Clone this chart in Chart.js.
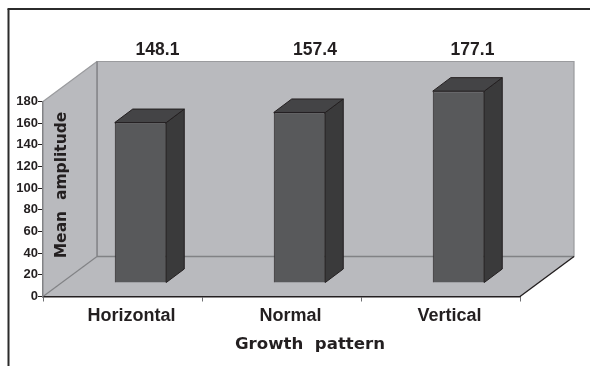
<!DOCTYPE html>
<html>
<head>
<meta charset="utf-8">
<style>
  html, body { margin: 0; padding: 0; background: #fff; }
  canvas { display: block; }
</style>
<script src="https://cdn.jsdelivr.net/npm/chart.js@4"></script>
</head>
<body>
<canvas id="chart" width="590" height="366"></canvas>
<script>
// Chart data
const categories = ["Horizontal", "Normal", "Vertical"];
const amplitudes = [148.1, 157.4, 177.1];
const xAxisTitle = "Growth  pattern";
const yAxisTitle = "Mean  amplitude";

const WALL = "#b9babe";
const WALL_EDGE = "#818285";
const WALL_EDGE_LIGHT = "#9a9b9e";
const DARK = "#231f20";
const SANS = "'Liberation Sans', Arial, sans-serif";
const WIDE = "'DejaVu Sans', Verdana, sans-serif";

// Room depth and bar offset of the fake 3D look
const ROOM_DX = 54, ROOM_DY = -40;
const BAR_DX = 18, BAR_DY = -13.5;
const SIDE_DX = 18, SIDE_DY = -13.5;

function poly(ctx, pts, fill, stroke, width) {
    ctx.beginPath();
    pts.forEach((p, i) => (i ? ctx.lineTo(p[0], p[1]) : ctx.moveTo(p[0], p[1])));
    ctx.closePath();
    if (fill) {
        ctx.fillStyle = fill;
        ctx.fill();
    }
    if (stroke) {
        ctx.strokeStyle = stroke;
        ctx.lineWidth = width || 1;
        ctx.stroke();
    }
}

function line(ctx, x0, y0, x1, y1, color, width) {
    ctx.strokeStyle = color;
    ctx.lineWidth = width;
    ctx.beginPath();
    ctx.moveTo(x0, y0);
    ctx.lineTo(x1, y1);
    ctx.stroke();
}

const roomPlugin = {
    id: "room",
    // Outer frame and the grey walls go behind the axes
    beforeDraw(chart) {
        const { ctx, chartArea: a } = chart;
        ctx.save();
        line(ctx, 8.5, chart.height, 8.5, 9, "#2b2b2b", 2);
        line(ctx, 7.5, 9, chart.width, 9, "#2b2b2b", 2);

        const l = a.left, r = a.right, t = a.top, b = a.bottom;
        const dx = ROOM_DX, dy = ROOM_DY;
        poly(ctx, [[l + dx, t + dy], [r + dx, t + dy], [r + dx, b + dy], [l + dx, b + dy]], WALL, WALL_EDGE_LIGHT, 1.2);
        poly(ctx, [[l, t], [l + dx, t + dy], [l + dx, b + dy], [l, b]], WALL);
        poly(ctx, [[l, b], [l + dx, b + dy], [r + dx, b + dy], [r, b]], WALL);
        line(ctx, l, t, l + dx, t + dy, WALL_EDGE_LIGHT, 1.2);
        line(ctx, l + dx, t + dy, l + dx, b + dy, WALL_EDGE, 1.4);
        line(ctx, l + dx, b + dy, r + dx, b + dy, WALL_EDGE, 1.4);
        line(ctx, l, b, l + dx, b + dy, WALL_EDGE, 1.2);
        line(ctx, r, b, r + dx, b + dy, DARK, 1.4);
        ctx.restore();
    },
    // Bars stand in the middle of the floor, so everything shifts back a bit
    beforeDatasetsDraw(chart) {
        const ctx = chart.ctx;
        ctx.save();
        ctx.translate(BAR_DX, BAR_DY);
        chart.getDatasetMeta(0).data.forEach((bar) => {
            const p = bar.getProps(["x", "y", "base", "width"], true);
            const x0 = p.x - p.width / 2, x1 = p.x + p.width / 2;
            poly(ctx, [[x1, p.y], [x1 + SIDE_DX, p.y + SIDE_DY], [x1 + SIDE_DX, p.base + SIDE_DY], [x1, p.base]], "#3a3a3b", DARK, 1);
            poly(ctx, [[x0, p.y], [x0 + SIDE_DX, p.y + SIDE_DY], [x1 + SIDE_DX, p.y + SIDE_DY], [x1, p.y]], "#444446", DARK, 1);
        });
    },
    afterDatasetsDraw(chart) {
        const ctx = chart.ctx;
        ctx.restore();

        // Value labels sit in one row above the room
        ctx.save();
        ctx.fillStyle = DARK;
        ctx.textAlign = "center";
        ctx.textBaseline = "middle";
        ctx.font = "bold 17.5px " + SANS;
        chart.getDatasetMeta(0).data.forEach((bar, i) => {
            ctx.fillText(amplitudes[i].toFixed(1), bar.x + 35 - (i * 1.5), 50);
        });

        // Axis titles, placed like the original rather than centred on the axes
        ctx.font = "bold 16.6px " + WIDE;
        ctx.fillText(xAxisTitle, 310, 345);
        ctx.font = "bold 15.5px " + WIDE;
        ctx.translate(62, 185);
        ctx.rotate(-Math.PI / 2);
        ctx.fillText(yAxisTitle, 0, 0);
        ctx.restore();
    },
};

const ctx = document.getElementById("chart").getContext("2d");

new Chart(ctx, {
    type: "bar",
    data: {
        labels: categories,
        datasets: [
            {
                data: amplitudes,
                backgroundColor: "#58595b",
                borderColor: DARK,
                borderWidth: 1,
                barPercentage: 0.324,
                categoryPercentage: 1,
            },
        ],
    },
    options: {
        responsive: false,
        animation: false,
        layout: { padding: { top: 101.5, right: 70, left: 0, bottom: 0 } },
        plugins: {
            legend: { display: false },
            title: { display: false },
            tooltip: { enabled: false },
        },
        scales: {
            x: {
                afterFit(scale) {
                    scale.height = 69.5;
                },
                border: { color: DARK, width: 1.5 },
                grid: { drawOnChartArea: false, color: "#6d6e71", tickLength: 5 },
                ticks: {
                    color: DARK,
                    font: { family: SANS, size: 18, weight: "bold" },
                    labelOffset: 9,
                    padding: 4,
                    maxRotation: 0,
                },
            },
            y: {
                min: 0,
                max: 180,
                afterFit(scale) {
                    scale.width = 43;
                },
                border: { color: WALL_EDGE, width: 1.5 },
                grid: { drawOnChartArea: false, color: DARK, tickLength: 5 },
                ticks: {
                    stepSize: 20,
                    color: DARK,
                    font: { family: SANS, size: 13, weight: "bold" },
                    padding: 0,
                },
            },
        },
    },
    plugins: [roomPlugin],
});
</script>
</body>
</html>
